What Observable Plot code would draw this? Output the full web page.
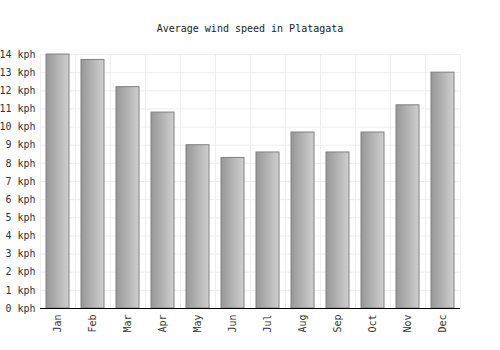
<!DOCTYPE html>
<html>
<head>
<meta charset="utf-8">
<script src="https://cdn.jsdelivr.net/npm/d3@7"></script>
<script src="https://cdn.jsdelivr.net/npm/@observablehq/plot@0.6"></script>
<style>
  body { margin: 0; background: #fff; }
  #title { height: 44px; width: 500px; text-align: center; font: 10px "DejaVu Sans Mono", monospace; color: #222; line-height: 58px; box-sizing: border-box; }
  #chart svg { display: block; }
</style>
</head>
<body>
<div id="title">Average wind speed in Platagata</div>
<div id="chart"></div>
<script>
const months = ["Jan","Feb","Mar","Apr","May","Jun","Jul","Aug","Sep","Oct","Nov","Dec"];
const windKph = [14.0, 13.7, 12.2, 10.8, 9.0, 8.3, 8.6, 9.7, 8.6, 9.7, 11.2, 13.0];
const yTicks = [0,1,2,3,4,5,6,7,8,9,10,11,12,13,14];

const data = months.map((m, i) => ({month: m, value: windKph[i]}));

const gradientDefs = () => {
  const defs = d3.create("svg:defs");
  const g = defs.append("linearGradient").attr("id", "barGrad").attr("x1", "0").attr("x2", "1").attr("y1", "0").attr("y2", "0");
  g.append("stop").attr("offset", "0%").attr("stop-color", "#979797");
  g.append("stop").attr("offset", "100%").attr("stop-color", "#cfcfcf");
  return defs.node();
};

const step = 420 / 12;

const chart = Plot.plot({
  width: 500,
  height: 306,
  marginTop: 10,
  marginBottom: 42,
  marginLeft: 40,
  marginRight: 40,
  style: { fontFamily: "'DejaVu Sans Mono', monospace", fontSize: "10px", color: "#333", background: "#fff", overflow: "visible" },
  x: { domain: months, paddingInner: 0.33, paddingOuter: 0.165, label: null },
  y: { domain: [0, 14], label: null },
  marks: [
    gradientDefs,
    Plot.gridY(yTicks, { stroke: "#eeeeee", strokeOpacity: 1 }),
    Plot.ruleX(months, { x: d => d, dx: -step / 2, stroke: "#eeeeee", strokeOpacity: 1 }),
    Plot.ruleX([months[months.length - 1]], { x: d => d, dx: step / 2, stroke: "#eeeeee", strokeOpacity: 1 }),
    Plot.barY(data, { x: "month", y: "value", fill: "url(#barGrad)", stroke: "#808080", strokeWidth: 1 }),
    Plot.axisY(yTicks, { tickSize: 0, tickPadding: 5, tickFormat: d => d + " kph", fill: "#333" }),
    Plot.axisX({ tickSize: 0, tickPadding: 6, tickRotate: -90, fill: "#333" }),
    Plot.ruleX([0], { frameAnchor: "left", stroke: "#000" }),
    Plot.ruleY([0], { stroke: "#000" })
  ]
});
document.getElementById("chart").appendChild(chart);
</script>
</body>
</html>
